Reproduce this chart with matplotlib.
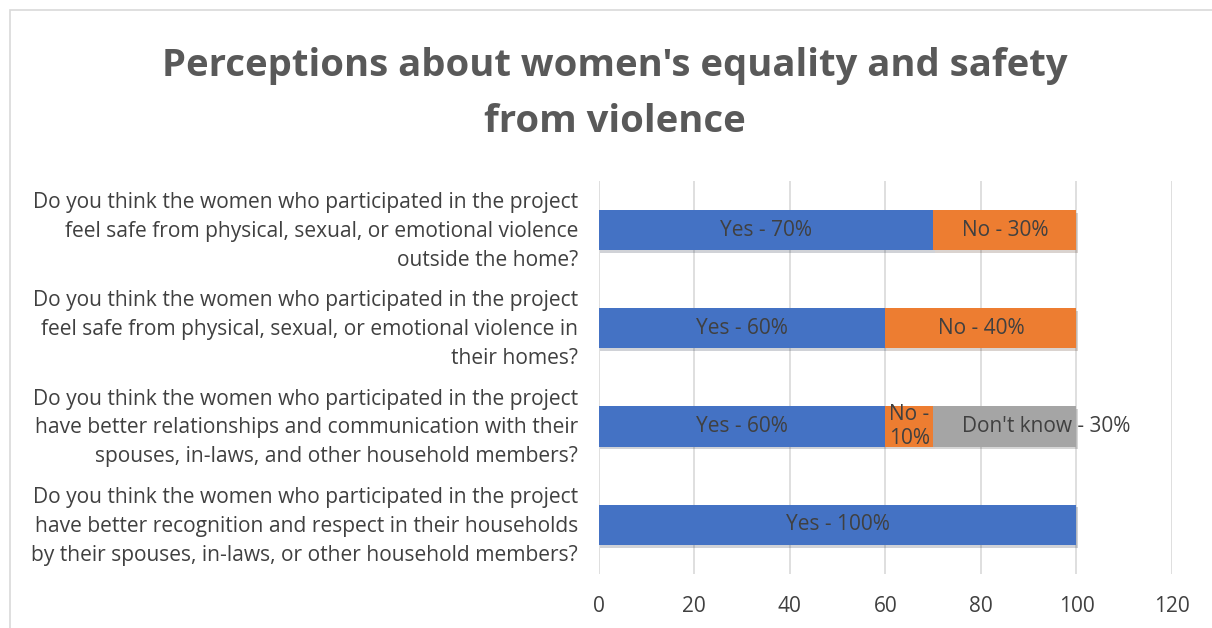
import matplotlib.pyplot as plt
import matplotlib.transforms as mtransforms
from matplotlib.patches import Rectangle
import matplotlib.patheffects as pe

# questions, top to bottom
questions = [
    "Do you think the women who participated in the project\nfeel safe from physical, sexual, or emotional violence\noutside the home?",
    "Do you think the women who participated in the project\nfeel safe from physical, sexual, or emotional violence in\ntheir homes?",
    "Do you think the women who participated in the project\nhave better relationships and communication with their\nspouses, in-laws, and other household members?",
    "Do you think the women who participated in the project\nhave better recognition and respect in their households\nby their spouses, in-laws, or other household members?",
]
yes = [70, 60, 60, 100]
no = [30, 40, 10, 0]
dont_know = [0, 0, 30, 0]
xticks = [0, 20, 40, 60, 80, 100, 120]

text_color = "#404040"
fig = plt.figure(figsize=(12.12, 6.28), dpi=100)
fig.patches.append(Rectangle((0.008, -0.01), 1.0, 0.994, transform=fig.transFigure,
                             fill=False, edgecolor="#D9D9D9", linewidth=1.2))

ax = fig.add_axes([0.494, 0.086, 0.473, 0.626])
ypos = list(range(len(questions)))[::-1]
shadow = [pe.SimplePatchShadow(offset=(1, -2), alpha=0.2), pe.Normal()]

b1 = ax.barh(ypos, yes, height=0.41, color="#4472C4", zorder=3)
b2 = ax.barh(ypos, no, left=yes, height=0.41, color="#ED7D31", zorder=3)
left3 = [a + b for a, b in zip(yes, no)]
b3 = ax.barh(ypos, dont_know, left=left3, height=0.41, color="#A5A5A5", zorder=3)
for bars in (b1, b2, b3):
    for b in bars:
        b.set_path_effects(shadow)

fs = 15
for y, v, n, d, l3 in zip(ypos, yes, no, dont_know, left3):
    ax.text(v / 2, y, f"Yes - {v}%", ha="center", va="center", fontsize=fs,
            color=text_color, zorder=4, fontfamily="Open Sans")
    if n >= 20:
        ax.text(v + n / 2, y, f"No - {n}%", ha="center", va="center", fontsize=fs,
                color=text_color, zorder=4, fontfamily="Open Sans")
    elif n > 0:
        ax.text(v + n / 2, y, f"No -\n{n}%", ha="center", va="center", fontsize=fs,
                color=text_color, zorder=4, fontfamily="Open Sans", linespacing=1.2)
    if d > 0:
        ax.text(l3 + 6, y, f"Don't know - {d}%", ha="left", va="center", fontsize=fs,
                color=text_color, zorder=4, fontfamily="Open Sans")

ax.set_xlim(0, 120)
ax.set_ylim(-0.5, 3.5)
ax.set_xticks(xticks)
ax.set_xticklabels([str(t) for t in xticks], fontsize=15, color=text_color,
                   fontfamily="Open Sans")
ax.set_yticks(ypos)
ax.set_yticklabels(questions, fontsize=15.1, color=text_color, fontfamily="Open Sans",
                   linespacing=1.49)
ax.tick_params(axis="both", length=0)
ax.tick_params(axis="x", pad=16)
ax.tick_params(axis="y", pad=15)
# nudge the question labels up a little
shift = mtransforms.ScaledTranslation(0, 5 / 100, fig.dpi_scale_trans)
for lab in ax.get_yticklabels():
    lab.set_transform(lab.get_transform() + shift)
ax.grid(axis="x", color="#D9D9D9", linewidth=1.2, zorder=0)
for s in ax.spines.values():
    s.set_visible(False)

fig.text(0.507, 0.85, "Perceptions about women's equality and safety\nfrom violence",
         ha="center", va="center", fontsize=27.5, fontweight="bold", color="#595959",
         fontfamily="Open Sans", linespacing=1.64)

fig.savefig("out.png", dpi=100)
